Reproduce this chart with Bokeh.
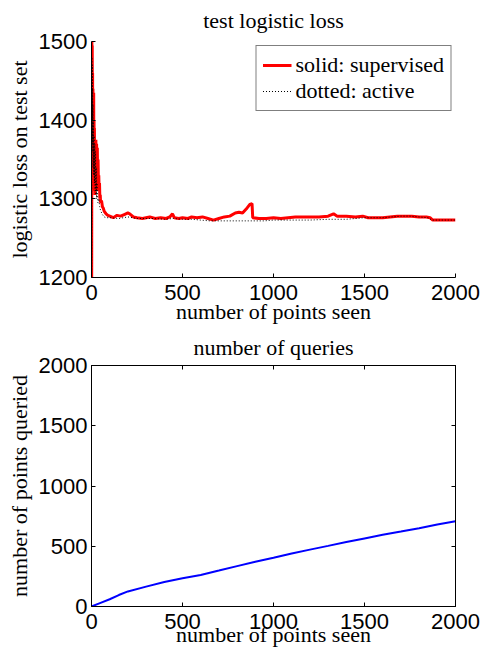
from bokeh.plotting import figure
from bokeh.models import Range1d, FixedTicker, LinearAxis
from bokeh.layouts import column
from bokeh.embed import file_html
from bokeh.resources import INLINE

# ---- data: test logistic loss ----
sup_x = [1, 2, 3, 4, 5, 6, 7, 8, 9, 10, 11, 12, 13, 14, 15, 16, 17, 18, 19, 20,
         22, 24, 26, 28, 30, 32, 34, 36, 38, 40, 42, 44, 46, 48, 50, 55, 60, 65, 70, 80, 90,
         100, 120, 140, 160, 180, 200, 210, 230, 250, 280, 300, 320, 350, 380, 410, 430, 445,
         455, 480, 500, 530, 550, 580, 610, 640, 670, 700, 730, 760, 790, 810, 830, 850, 870,
         882, 886, 920, 960, 1000, 1040, 1080, 1120, 1160, 1200, 1250, 1300, 1330, 1350, 1400,
         1450, 1490, 1520, 1560, 1600, 1640, 1680, 1720, 1760, 1800, 1840, 1860, 1875, 1920,
         1960, 2000]
sup_y = [1200, 1500, 1470, 1495, 1380, 1460, 1350, 1440, 1330, 1420, 1340, 1435, 1320, 1400,
         1310, 1390, 1330, 1375, 1305, 1370,
         1310, 1375, 1310, 1370, 1320, 1365, 1315, 1350, 1320, 1330, 1310, 1320, 1300, 1305,
         1295, 1298, 1290, 1288, 1284, 1281, 1279,
         1278, 1276, 1279, 1278, 1280, 1282, 1281, 1277, 1276, 1275, 1276, 1277, 1275, 1276,
         1275, 1277, 1281,
         1276, 1275, 1276, 1275, 1277, 1276, 1277, 1275, 1273, 1275, 1277, 1278, 1282, 1283,
         1282, 1287, 1293,
         1294, 1276, 1275, 1275, 1276, 1275, 1276, 1277, 1277, 1277, 1277, 1278, 1281, 1278,
         1278,
         1277, 1278, 1276, 1276, 1276, 1277, 1278, 1278, 1278, 1277, 1277, 1276, 1273, 1273,
         1273, 1273]

act_x = [1, 2, 3, 4, 5, 6, 7, 8, 9, 10, 12, 14, 16, 18, 20, 22, 24, 26, 28, 30, 35, 40,
         45, 50, 60, 70, 80, 100, 150, 200, 250, 300, 350, 400, 450, 500, 550, 600, 650, 700,
         750, 800, 850, 900, 950, 1000, 1100, 1200, 1300, 1400, 1500, 1550, 1600, 1650, 1700,
         1750, 1800, 1850, 1870, 1900, 2000]
act_y = [1210, 1480, 1400, 1470, 1370, 1440, 1360, 1420, 1340, 1400, 1330, 1380, 1320, 1370,
         1310, 1360, 1305, 1340, 1300, 1320, 1295, 1300,
         1290, 1285, 1280, 1277, 1276, 1276, 1275, 1277, 1275, 1275, 1275, 1274, 1275, 1274,
         1274, 1273, 1272, 1272,
         1272, 1272, 1272, 1272, 1272, 1273, 1273, 1273, 1274, 1274, 1276, 1276, 1276, 1277,
         1278,
         1278, 1277, 1276, 1273, 1273, 1273]

# ---- data: number of queries ----
q_x = [0, 50, 100, 150, 200, 300, 400, 500, 600, 700, 800, 900, 1000, 1100, 1200, 1300,
       1400, 1500, 1600, 1700, 1800, 1900, 2000]
q_y = [0, 30, 60, 95, 125, 165, 203, 235, 262, 298, 335, 372, 405, 440, 472, 503,
       535, 565, 595, 622, 650, 680, 707]

x_ticks = [0, 500, 1000, 1500, 2000]
loss_ticks = [1200, 1300, 1400, 1500]
query_ticks = [0, 500, 1000, 1500, 2000]

SANS = "Liberation Sans"
SERIF = "Liberation Serif"


def style_axis(ax, ticks, label_standoff=4, axis_label_standoff=0, labels=True):
    ax.ticker = FixedTicker(ticks=ticks)
    ax.major_tick_in = 4
    ax.major_tick_out = 0
    ax.minor_tick_line_color = None
    ax.axis_line_color = "black"
    ax.major_tick_line_color = "black"
    ax.major_label_text_font = SANS
    ax.axis_label_text_font = SERIF
    ax.axis_label_text_font_size = "22px"
    ax.axis_label_text_font_style = "normal"
    ax.axis_label_text_color = "black"
    ax.major_label_standoff = label_standoff
    ax.axis_label_standoff = axis_label_standoff
    if labels:
        ax.major_label_text_font_size = "22px"
        ax.major_label_text_color = "black"
    else:
        ax.major_label_overrides = {t: "" for t in ticks}
        ax.major_label_text_color = None
        ax.major_label_text_font_size = "1px"
        ax.major_label_standoff = 0


def style_title(p, standoff):
    p.title.text_font = SERIF
    p.title.text_font_size = "22px"
    p.title.text_font_style = "normal"
    p.title.align = "center"
    p.title.vertical_align = "top"
    p.title.text_color = "black"
    p.title.standoff = standoff


# ---- top figure ----
top = figure(width=482, height=327, x_range=Range1d(0, 2000), y_range=Range1d(1200, 1500),
             output_backend="svg", toolbar_location=None, title="test logistic loss",
             min_border_left=91, min_border_right=27, min_border_top=41, min_border_bottom=50,
             x_axis_label="number of points seen", y_axis_label="logistic loss on test set")
top.grid.visible = False
top.outline_line_color = None
style_title(top, 14)
style_axis(top.xaxis[0], x_ticks, label_standoff=7, axis_label_standoff=-4)
style_axis(top.yaxis[0], loss_ticks, label_standoff=4, axis_label_standoff=4)

top.line(sup_x, sup_y, line_color="#ff0000", line_width=3, legend_label="solid: supervised")
top.line(act_x, act_y, line_color="black", line_width=1, line_dash="1 2",
         legend_label="dotted: active")

lg = top.legend[0]
lg.location = "top_right"
lg.margin = 4
lg.padding = 6
lg.spacing = 0
lg.glyph_width = 29
lg.glyph_height = 22
lg.label_standoff = 4
lg.label_text_font = SERIF
lg.label_text_font_size = "22px"
lg.label_text_color = "black"
lg.border_line_color = "black"
lg.border_line_width = 1
lg.background_fill_alpha = 1

# ---- bottom figure ----
bot = figure(width=482, height=323, x_range=Range1d(0, 2000), y_range=Range1d(0, 2000),
             output_backend="svg", toolbar_location=None, title="number of queries",
             min_border_left=91, min_border_right=27, min_border_top=38, min_border_bottom=44,
             x_axis_label="number of points seen", y_axis_label="number of points queried")
bot.grid.visible = False
bot.outline_line_color = "black"
style_title(bot, 8)
style_axis(bot.xaxis[0], x_ticks, label_standoff=7, axis_label_standoff=-10)
style_axis(bot.yaxis[0], query_ticks, label_standoff=4, axis_label_standoff=4)
ax_top = LinearAxis()
style_axis(ax_top, x_ticks, labels=False)
bot.add_layout(ax_top, "above")
ax_right = LinearAxis()
style_axis(ax_right, query_ticks, labels=False)
bot.add_layout(ax_right, "right")

bot.line(q_x, q_y, line_color="#0000ff", line_width=2)

layout = column(top, bot)
open("out.html", "w").write(file_html(layout, INLINE))
